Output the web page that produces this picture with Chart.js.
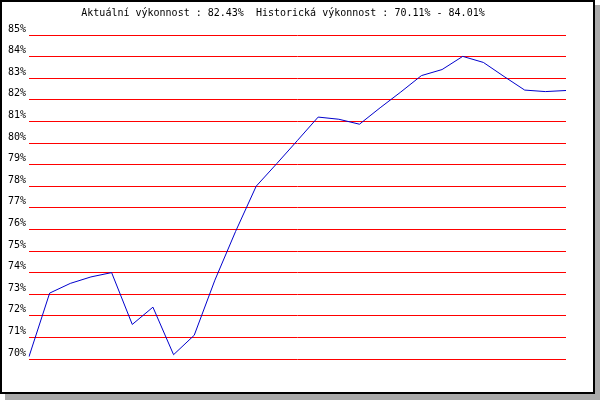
<!DOCTYPE html>
<html>
<head>
<meta charset="utf-8">
<script src="https://cdn.jsdelivr.net/npm/chart.js@4"></script>
<style>
  body { margin: 0; background: #fff; }
  canvas { display: block; }
</style>
</head>
<body>
<canvas id="perfChart" width="600" height="400"></canvas>
<script>
// data
const periods = ["1", "2", "3", "4", "5", "6", "7", "8", "9", "10", "11", "12", "13", "14",
                 "15", "16", "17", "18", "19", "20", "21", "22", "23", "24", "25", "26", "27"];
const performance = [70.11, 73.05, 73.5, 73.8, 74.0, 71.6, 72.4, 70.2, 71.1, 73.65, 75.9, 78.0, 79.05, 80.12,
                     81.2, 81.1, 80.87, 81.63, 82.36, 83.12, 83.4, 84.01, 83.73, 83.08, 82.45, 82.38, 82.43];
const titleText = "Aktuální výkonnost : 82.43%  Historická výkonnost : 70.11% - 84.01%";
const yMin = 70;
const yMax = 85;

const MONO = "'DejaVu Sans Mono', 'Liberation Mono', monospace";

// framed background with grey drop shadow
const frame = {
  id: "frame",
  beforeDraw(chart) {
    const ctx = chart.ctx;
    ctx.save();
    ctx.fillStyle = "#ffffff";
    ctx.fillRect(0, 0, 600, 400);
    ctx.fillStyle = "#aaaaaa";
    ctx.fillRect(5, 5, 595, 395);
    ctx.fillStyle = "#000000";
    ctx.fillRect(0, 0, 595, 394);
    ctx.fillStyle = "#ffffff";
    ctx.fillRect(2, 2, 591, 390);
    ctx.restore();
  }
};

new Chart(document.getElementById("perfChart"), {
  type: "line",
  data: {
    labels: periods,
    datasets: [{
      data: performance,
      borderColor: "#0000cc",
      borderWidth: 1,
      pointRadius: 0,
      tension: 0,
      fill: false
    }]
  },
  options: {
    responsive: false,
    animation: false,
    layout: { padding: { left: 0, right: 34, top: 0, bottom: 41 } },
    plugins: {
      legend: { display: false },
      tooltip: { enabled: false },
      title: {
        display: true,
        text: titleText,
        color: "#000",
        font: { family: MONO, size: 10, weight: "normal", lineHeight: 1.2 },
        padding: { top: 7, bottom: 16 }
      }
    },
    scales: {
      x: { display: false, offset: false },
      y: {
        min: yMin,
        max: yMax,
        border: { display: false },
        grid: { color: "#ff0000", lineWidth: 1, drawTicks: false },
        ticks: {
          stepSize: 1,
          padding: 3,
          labelOffset: -6,
          color: "#000",
          font: { family: MONO, size: 10 },
          callback: v => v + "%"
        },
        afterFit(scale) { scale.width = 29; }
      }
    }
  },
  plugins: [frame]
});
</script>
</body>
</html>
